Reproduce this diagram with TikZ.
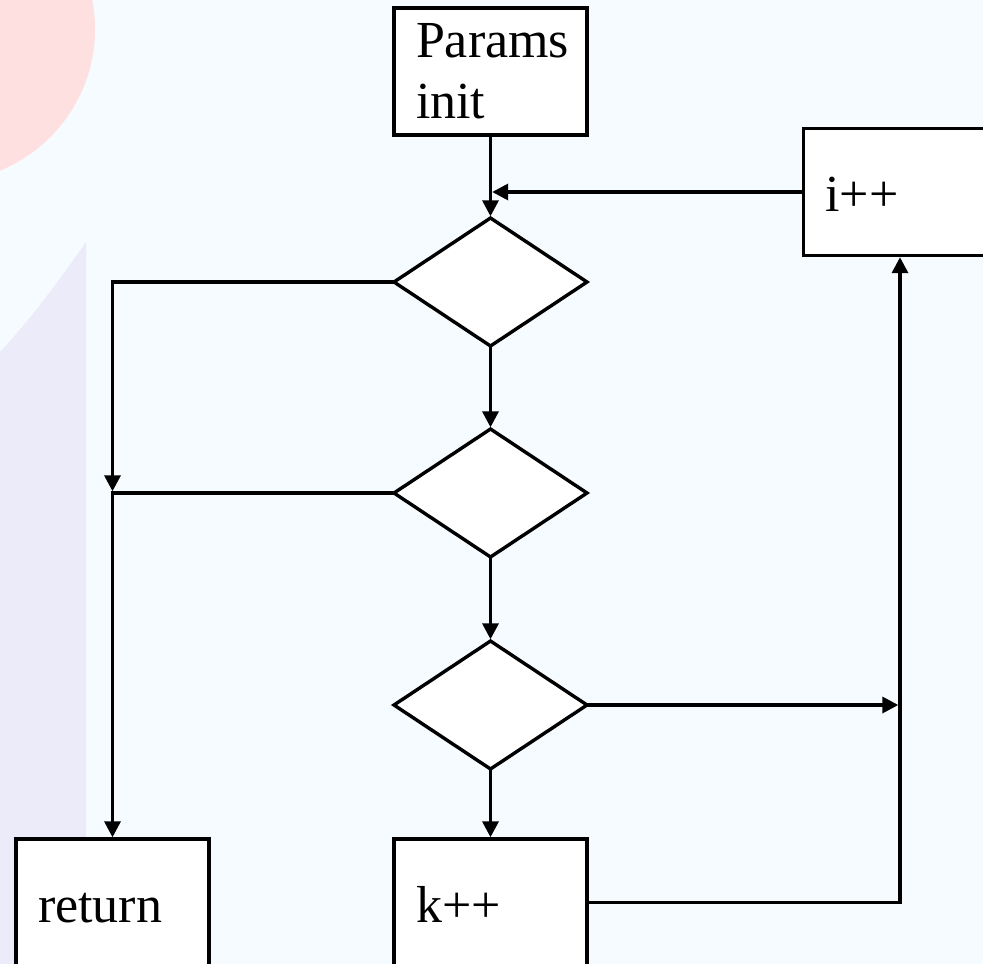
\documentclass[tikz,border=0pt]{standalone}
\usepackage{fontspec}
\setmainfont{Liberation Serif}
\usetikzlibrary{positioning,arrows.meta,calc,shapes.geometric}
\definecolor{paper}{RGB}{245,251,255}
\definecolor{blush}{RGB}{255,224,224}
\definecolor{lilac}{RGB}{236,235,250}
\tikzset{
flow/.style={>={Triangle[length=16pt,width=16pt]},line width=3.4pt,node distance=83pt},
block/.style={rectangle,draw,fill=white,line width=3.4pt,outer sep=0pt,minimum width=193pt,minimum height=127pt,
text width=149pt,inner xsep=22pt,align=left,font=\fontsize{52}{61}\selectfont},
oneline/.style={block,text height=39pt,text depth=0pt},
test/.style={diamond,draw,fill=white,line width=3.4pt,outer sep=0pt,minimum width=193pt,minimum height=128pt,inner sep=0pt},
link/.style={->,shorten >=1.7pt}
}

\begin{document}
\begin{tikzpicture}[flow,x=1pt,y=-1pt]

% backdrop
\fill[paper] (0,0) rectangle (983,964);
\useasboundingbox (0,0) rectangle (983,964);
\begin{scope}
\clip (0,0) rectangle (983,964);
\fill[blush] (-58,29) circle (153);
\fill[lilac] (86,242) .. controls (70,265) and (35,315) .. (0,352) -- (0,964) -- (86,964) -- cycle;

\node[block] (params) at (490.5,71.5) {Params\\init};
\node[test] (d1) [below=of params] {};
\node[test] (d2) [below=of d1] {};
\node[test] (d3) [below=84pt of d2] {};
\node[oneline] (kpp) [below=70pt of d3] {k++};
\node[oneline] (ret) [left=185pt of kpp] {return};
\node[oneline] (ipp) at (900,192) {i++};
\coordinate (hub) at (ipp.south |- d3.east);

\draw[link] (params) -- (d1);
\draw[link] (d1) -- (d2);
\draw[link] (d2) -- (d3);
\draw[link] (d3) -- (kpp);
\draw[link] (ipp) -- (params.south |- ipp.west);
\draw[link] (d1.west) -| (ret.north |- d2.west);
\draw[link] (d2.west) -| (ret.north);
\draw[link] (d3.east) -- (hub);
\draw[link] (kpp.east) -| (ipp.south);
\end{scope}

\end{tikzpicture}
\end{document}
